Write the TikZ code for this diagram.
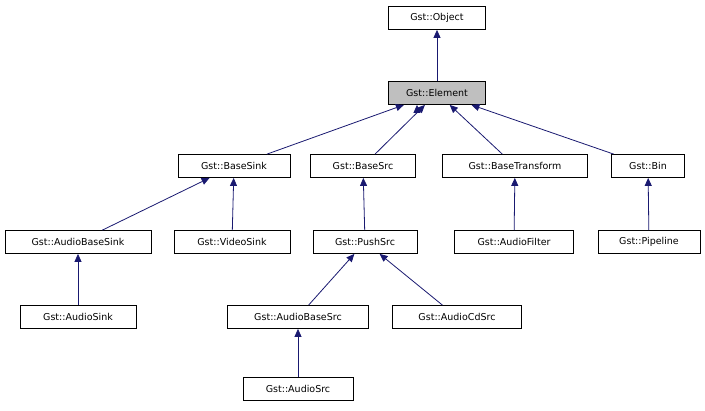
\documentclass[tikz,border=0pt]{standalone}
\usepackage{fontspec}
\setmainfont{DejaVu Sans}
\usetikzlibrary{arrows.meta}
\definecolor{edgec}{RGB}{25,25,112}
\begin{document}
\begin{tikzpicture}[x=1pt,y=-1pt,
  box/.style={draw=black,fill=white,minimum height=23pt,inner xsep=3pt,font=\fontsize{9.5}{11}\selectfont,anchor=center,line width=0.8pt},
  inh/.style={draw=edgec,line width=0.8pt,{Triangle[length=8pt,width=7pt]}-}]
\useasboundingbox (0,0) rectangle (705,411);
\node[box,minimum width=97pt] (obj) at (437,18) {Gst::Object};
\node[box,minimum width=97pt,fill={rgb,255:red,191;green,191;blue,191}] (el) at (437,93) {Gst::Element};
\node[box,minimum width=112pt] (bsink) at (234,166) {Gst::BaseSink};
\node[box,minimum width=105pt] (bsrc) at (363,166) {Gst::BaseSrc};
\node[box,minimum width=145pt] (btr) at (515,166) {Gst::BaseTransform};
\node[box,minimum width=73pt] (bin) at (648,166) {Gst::Bin};
\node[box,minimum width=146pt] (absink) at (78,242) {Gst::AudioBaseSink};
\node[box,minimum width=116pt] (vsink) at (232,242) {Gst::VideoSink};
\node[box,minimum width=104pt] (push) at (365,242) {Gst::PushSrc};
\node[box,minimum width=119pt] (afilt) at (514,242) {Gst::AudioFilter};
\node[box,minimum width=102pt] (pipe) at (649,242) {Gst::Pipeline};
\node[box,minimum width=116pt] (asink) at (78,317) {Gst::AudioSink};
\node[box,minimum width=141pt] (absrc) at (298,317) {Gst::AudioBaseSrc};
\node[box,minimum width=129pt] (cdsrc) at (457,317) {Gst::AudioCdSrc};
\node[box,minimum width=110pt] (asrc) at (298,389) {Gst::AudioSrc};
\draw[inh] (obj) -- (el);
\draw[inh] (el.south) ++(-20,0) coordinate (e1);
\draw[inh] (el) -- (bsink);
\draw[inh] (el) -- (bsrc);
\draw[inh] (el) -- (btr);
\draw[inh] (el) -- (bin);
\draw[inh] (bsink) -- (absink);
\draw[inh] (bsink) -- (vsink);
\draw[inh] (bsrc) -- (push);
\draw[inh] (btr) -- (afilt);
\draw[inh] (bin) -- (pipe);
\draw[inh] (absink) -- (asink);
\draw[inh] (push) -- (absrc);
\draw[inh] (push) -- (cdsrc);
\draw[inh] (absrc) -- (asrc);
\end{tikzpicture}
\end{document}
